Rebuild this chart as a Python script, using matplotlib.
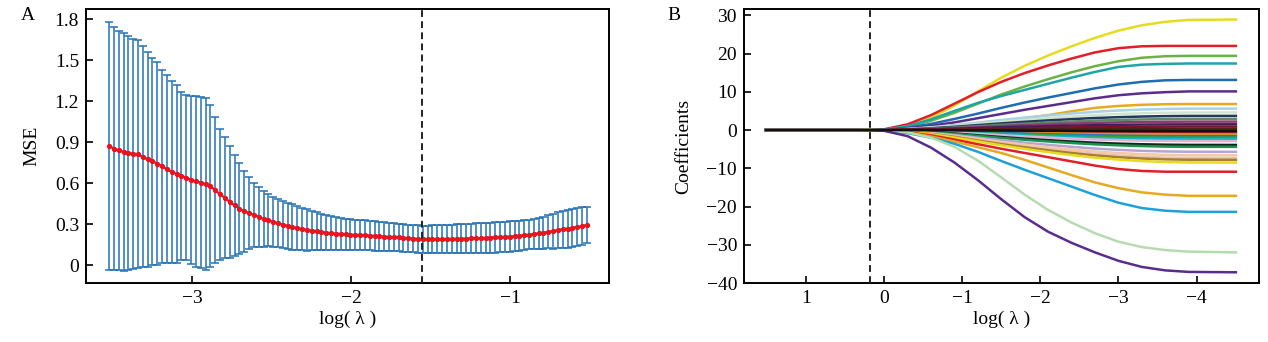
import numpy as np
import matplotlib
matplotlib.use("Agg")
import matplotlib.pyplot as plt

plt.rcParams['font.family'] = ['Liberation Serif', 'DejaVu Serif']

# ---------------- Panel A: cross-validated MSE along the lambda path ----------------
cv_log_lambda = np.linspace(-3.522, -0.516, 100)
cv_mean = [
    0.873, 0.854, 0.841, 0.829, 0.822, 0.817, 0.812, 0.793, 0.775, 0.761,
    0.744, 0.724, 0.702, 0.683, 0.668, 0.655, 0.640, 0.625, 0.613, 0.605,
    0.595, 0.578, 0.549, 0.519, 0.493, 0.463, 0.439, 0.415, 0.395, 0.383,
    0.368, 0.354, 0.339, 0.329, 0.317, 0.307, 0.298, 0.288, 0.280, 0.273,
    0.266, 0.258, 0.254, 0.249, 0.244, 0.239, 0.234, 0.232, 0.229, 0.227,
    0.224, 0.222, 0.221, 0.219, 0.217, 0.214, 0.212, 0.210, 0.207, 0.205,
    0.203, 0.200, 0.198, 0.195, 0.192, 0.190, 0.189, 0.189, 0.190, 0.190,
    0.191, 0.192, 0.193, 0.194, 0.195, 0.196, 0.197, 0.198, 0.200, 0.202,
    0.204, 0.206, 0.208, 0.210, 0.213, 0.216, 0.220, 0.224, 0.228, 0.233,
    0.238, 0.244, 0.250, 0.257, 0.263, 0.268, 0.274, 0.280, 0.286, 0.294,
]
cv_se = [
    0.907, 0.891, 0.873, 0.871, 0.856, 0.841, 0.834, 0.809, 0.786, 0.756,
    0.744, 0.706, 0.688, 0.667, 0.652, 0.615, 0.605, 0.615, 0.623, 0.627,
    0.630, 0.592, 0.536, 0.481, 0.442, 0.407, 0.371, 0.335, 0.295, 0.262,
    0.237, 0.218, 0.206, 0.191, 0.183, 0.175, 0.170, 0.168, 0.165, 0.161,
    0.156, 0.152, 0.144, 0.138, 0.133, 0.129, 0.126, 0.121, 0.118, 0.114,
    0.112, 0.111, 0.109, 0.109, 0.108, 0.109, 0.108, 0.106, 0.105, 0.103,
    0.101, 0.100, 0.099, 0.099, 0.100, 0.100, 0.101, 0.102, 0.102, 0.104,
    0.104, 0.105, 0.106, 0.106, 0.107, 0.108, 0.109, 0.110, 0.110, 0.110,
    0.111, 0.111, 0.111, 0.111, 0.110, 0.110, 0.109, 0.108, 0.109, 0.112,
    0.117, 0.121, 0.128, 0.133, 0.136, 0.139, 0.140, 0.139, 0.138, 0.134,
]
lambda_min_a = -1.555
mse_ticks = [0, 0.3, 0.6, 0.9, 1.2, 1.5, 1.8]
mse_tick_labels = ['0', '0.3', '0.6', '0.9', '1.2', '1.5', '1.8']
a_xticks = [-3, -2, -1]

# ---------------- Panel B: coefficient paths ----------------
path_log_lambda = [1.53, 0.3, 0.0, -0.3, -0.6, -0.9, -1.2, -1.5, -1.8,
                   -2.1, -2.4, -2.7, -3.0, -3.3, -3.6, -3.9, -4.52]
path_colors = [
    '#E6DB1F', '#E21F26', '#6BB244', '#1FA5A5', '#1F6CB0', '#5A2D8C',
    '#E7A922', '#A9D0E6', '#CFE6CC', '#23385F', '#5F8A63', '#8C3B6E',
    '#43205A', '#7B1230', '#4A2418',
    '#D91E2A', '#F08C1A', '#2079B4', '#35A33A', '#19B3C9', '#DDB4D6',
    '#0B2A17', '#1E9150', '#B3A4D0', '#F5C9A4', '#EAC4B4', '#A8802C',
    '#E6DB1F', '#E21F26', '#E7A922', '#1DA1D8', '#B7DBB1', '#5A2D8C',
    '#111111',
]
path_values = [
    [0, 0, 0.1, 1.0, 3.2, 6.4, 10.1, 13.7, 16.8, 19.5, 21.9, 24.1, 26.0, 27.4, 28.3, 28.8, 28.9],
    [0, 0, 0.2, 1.5, 3.9, 6.9, 9.9, 12.6, 14.9, 16.9, 18.7, 20.3, 21.4, 21.9, 22.0, 22.0, 22.0],
    [0, 0, 0.1, 0.9, 2.4, 4.5, 6.9, 9.3, 11.4, 13.3, 15.1, 16.7, 18.0, 18.9, 19.3, 19.4, 19.4],
    [0, 0, 0.1, 1.0, 2.8, 5.0, 7.1, 8.9, 10.5, 12.1, 13.7, 15.2, 16.5, 17.1, 17.3, 17.4, 17.4],
    [0, 0, 0.05, 0.6, 1.6, 2.9, 4.3, 5.8, 7.2, 8.5, 9.7, 10.9, 11.9, 12.6, 13.0, 13.1, 13.1],
    [0, 0, 0.05, 0.4, 1.1, 2.0, 3.1, 4.2, 5.3, 6.3, 7.3, 8.3, 9.1, 9.6, 9.9, 10.1, 10.1],
    [0, 0, 0.0, 0.2, 0.6, 1.1, 1.7, 2.4, 3.1, 3.9, 4.9, 5.8, 6.3, 6.6, 6.75, 6.8, 6.8],
    [0, 0, 0.06, 0.28, 0.73, 1.29, 1.96, 2.63, 3.25, 3.81, 4.31, 4.76, 5.10, 5.35, 5.50, 5.58, 5.6],
    [0, 0, 0.05, 0.23, 0.60, 1.06, 1.61, 2.16, 2.67, 3.13, 3.54, 3.91, 4.19, 4.39, 4.52, 4.58, 4.6],
    [0, 0, 0.04, 0.19, 0.48, 0.85, 1.30, 1.74, 2.15, 2.52, 2.85, 3.15, 3.37, 3.53, 3.64, 3.69, 3.7],
    [0, 0, 0.03, 0.15, 0.38, 0.67, 1.02, 1.36, 1.68, 1.97, 2.23, 2.47, 2.64, 2.77, 2.85, 2.89, 2.9],
    [0, 0, 0.02, 0.11, 0.29, 0.51, 0.77, 1.03, 1.28, 1.50, 1.69, 1.87, 2.00, 2.10, 2.16, 2.19, 2.2],
    [0, 0, 0.02, 0.08, 0.20, 0.35, 0.53, 0.71, 0.87, 1.02, 1.16, 1.28, 1.37, 1.43, 1.47, 1.49, 1.5],
    [0, 0, 0.01, 0.05, 0.12, 0.21, 0.32, 0.42, 0.52, 0.61, 0.69, 0.77, 0.82, 0.86, 0.88, 0.90, 0.9],
    [0, 0, 0.0, 0.02, 0.04, 0.07, 0.11, 0.14, 0.17, 0.20, 0.23, 0.26, 0.27, 0.29, 0.29, 0.30, 0.3],
    [0, 0, -0.01, -0.04, -0.09, -0.16, -0.25, -0.33, -0.41, -0.48, -0.54, -0.60, -0.64, -0.67, -0.69, -0.70, -0.7],
    [0, 0, -0.01, -0.06, -0.15, -0.26, -0.40, -0.54, -0.67, -0.78, -0.89, -0.98, -1.05, -1.10, -1.13, -1.15, -1.15],
    [0, 0, -0.02, -0.08, -0.21, -0.37, -0.56, -0.75, -0.93, -1.09, -1.23, -1.36, -1.46, -1.53, -1.57, -1.59, -1.6],
    [0, 0, -0.02, -0.10, -0.26, -0.46, -0.70, -0.94, -1.16, -1.36, -1.54, -1.70, -1.82, -1.91, -1.97, -1.99, -2.0],
    [0, 0, -0.02, -0.12, -0.32, -0.56, -0.86, -1.15, -1.42, -1.67, -1.89, -2.08, -2.23, -2.34, -2.41, -2.44, -2.45],
    [0, 0, -0.03, -0.15, -0.38, -0.67, -1.02, -1.36, -1.68, -1.97, -2.23, -2.47, -2.64, -2.77, -2.85, -2.89, -2.9],
    [0, 0, -0.04, -0.20, -0.51, -0.90, -1.37, -1.83, -2.26, -2.65, -3.00, -3.32, -3.55, -3.72, -3.83, -3.88, -3.9],
    [0, 0, -0.04, -0.22, -0.57, -1.01, -1.54, -2.07, -2.55, -2.99, -3.39, -3.74, -4.00, -4.20, -4.33, -4.38, -4.4],
    [0, 0, -0.06, -0.29, -0.74, -1.31, -2.00, -2.68, -3.31, -3.88, -4.39, -4.85, -5.19, -5.44, -5.60, -5.68, -5.7],
    [0, 0, -0.07, -0.33, -0.86, -1.52, -2.31, -3.10, -3.83, -4.49, -5.08, -5.61, -6.01, -6.30, -6.49, -6.57, -6.6],
    [0, 0, -0.07, -0.37, -0.95, -1.68, -2.56, -3.43, -4.23, -4.96, -5.62, -6.21, -6.64, -6.97, -7.18, -7.27, -7.3],
    [0, 0, -0.08, -0.39, -1.01, -1.79, -2.73, -3.67, -4.52, -5.30, -6.01, -6.63, -7.10, -7.45, -7.67, -7.77, -7.8],
    [0, 0, -0.09, -0.43, -1.11, -1.96, -2.98, -4.00, -4.93, -5.78, -6.55, -7.23, -7.74, -8.12, -8.36, -8.47, -8.5],
    [0, 0, -0.1, -0.6, -1.4, -2.5, -3.7, -4.9, -6.0, -7.1, -8.2, -9.3, -10.2, -10.7, -10.9, -10.9, -10.9],
    [0, 0, -0.1, -0.7, -1.7, -3.0, -4.5, -6.0, -7.8, -9.8, -11.8, -13.7, -15.2, -16.3, -16.9, -17.2, -17.2],
    [0, 0, -0.1, -0.8, -2.0, -3.6, -5.7, -8.1, -10.4, -12.6, -14.8, -17.0, -19.0, -20.4, -21.1, -21.4, -21.4],
    [0, 0, -0.1, -0.6, -2.0, -4.4, -8.0, -12.4, -16.9, -20.9, -24.2, -27.0, -29.2, -30.6, -31.4, -31.8, -32.0],
    [0, 0, -0.2, -1.6, -4.6, -8.5, -13.1, -18.1, -22.8, -26.6, -29.5, -32.0, -34.2, -35.8, -36.7, -37.1, -37.2],
    [0, 0, 0.0, -0.02, -0.04, -0.07, -0.11, -0.14, -0.17, -0.20, -0.23, -0.26, -0.27, -0.29, -0.29, -0.30, -0.3],
]
lambda_min_b = 0.18
coef_ticks = [-40, -30, -20, -10, 0, 10, 20, 30]
b_xticks = [1, 0, -1, -2, -3, -4]

W, H = 1268, 342
fig = plt.figure(figsize=(W / 100, H / 100), dpi=100)


def px_axes(left, right, top, bottom):
    return fig.add_axes([left / W, 1 - bottom / H, (right - left) / W, (bottom - top) / H])


def style_axes(ax):
    for s in ax.spines.values():
        s.set_linewidth(1.4)
    ax.tick_params(direction='in', length=5, width=1.2, labelsize=14,
                   top=False, right=False, pad=5)


# Panel A
axA = px_axes(86, 609, 9, 283)
axA.errorbar(cv_log_lambda, cv_mean, yerr=cv_se, fmt='none', ecolor='#2372B5',
             elinewidth=1.1, capsize=3.2, capthick=1.1, zorder=2)
axA.plot(cv_log_lambda, cv_mean, color='#E8141E', marker='o', markersize=2.8,
         linewidth=1.6, zorder=3)
axA.axvline(lambda_min_a, color='#222222', linestyle=(0, (3.5, 2.2)), linewidth=1.4, zorder=4)
axA.set_xlim(-3.667, -0.377)
axA.set_ylim(-0.13, 1.875)
axA.set_xticks(a_xticks)
axA.set_yticks(mse_ticks)
axA.set_yticklabels(mse_tick_labels)
axA.set_xlabel('log( λ )', fontsize=14, labelpad=3)
axA.set_ylabel('MSE', fontsize=14, labelpad=10)
style_axes(axA)

# Panel B
axB = px_axes(744, 1259, 9, 283)
for color, vals in zip(path_colors, path_values):
    axB.plot(path_log_lambda, vals, color=color, linewidth=1.8,
             solid_joinstyle='round', solid_capstyle='butt')
axB.axvline(lambda_min_b, color='#222222', linestyle=(0, (3.5, 2.2)), linewidth=1.4, zorder=5)
axB.set_xlim(1.795, -4.80)
axB.set_ylim(-40, 31.65)
axB.set_xticks(b_xticks)
axB.set_yticks(coef_ticks)
axB.set_xlabel('log( λ )', fontsize=14, labelpad=3)
axB.set_ylabel('Coefficients', fontsize=14, labelpad=10)
style_axes(axB)

fig.text(28 / W, 1 - 15 / H, 'A', fontsize=14, ha='center', va='center')
fig.text(674 / W, 1 - 15 / H, 'B', fontsize=14, ha='center', va='center')

fig.savefig('out.png', dpi=100)
